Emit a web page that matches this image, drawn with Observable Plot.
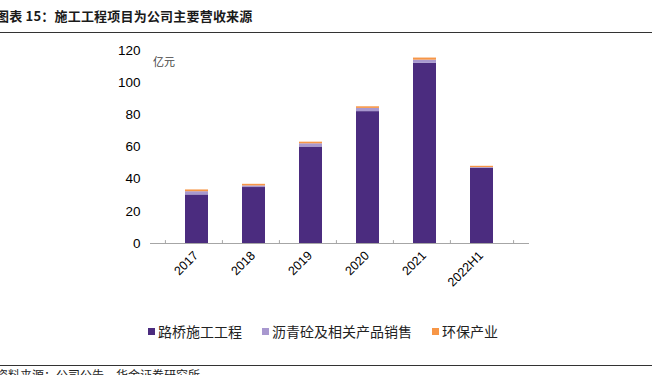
<!DOCTYPE html>
<html>
<head>
<meta charset="utf-8">
<script src="https://cdn.jsdelivr.net/npm/d3@7"></script>
<script src="https://cdn.jsdelivr.net/npm/@observablehq/plot@0.6"></script>
<style>
  html, body { margin: 0; padding: 0; background: #fff; width: 659px; height: 375px; overflow: hidden; position: relative; font-family: "Noto Sans CJK SC", sans-serif; }
  #title { position: absolute; left: -4px; top: 6px; font-size: 13px; font-weight: bold; color: #1a1a1a; white-space: nowrap; letter-spacing: 0.2px; }
  #rule1 { position: absolute; left: 0; top: 32px; width: 652px; height: 0; border-top: 1.5px solid #333; }
  #rule2 { position: absolute; left: 0; top: 365px; width: 652px; height: 0; border-top: 1.5px solid #333; }
  #footer { position: absolute; left: -4px; top: 366px; font-size: 12px; color: #222; white-space: nowrap; }
  #unit { position: absolute; left: 153px; top: 53px; font-size: 11px; color: #444; white-space: nowrap; }
  #chart { position: absolute; left: 0; top: 0; }
  #legend { position: absolute; left: 148px; top: 321px; display: flex; align-items: center; font-size: 14px; color: #222; white-space: nowrap; }
  .item { display: flex; align-items: center; margin-right: 20px; }
  .sw { width: 7px; height: 7px; margin-right: 3px; }
</style>
</head>
<body>
<div id="title"></div>
<div id="rule1"></div>
<div id="chart"></div>
<div id="unit"></div>
<div id="legend"></div>
<div id="rule2"></div>
<div id="footer"></div>
<script>
const titleText = "图表 15：施工工程项目为公司主要营收来源";
const footerText = "资料来源：公司公告，华金证券研究所";
const unitText = "亿元";
const categories = ["2017", "2018", "2019", "2020", "2021", "2022H1"];
const seriesNames = ["路桥施工工程", "沥青砼及相关产品销售", "环保产业"];
const seriesColors = ["#4b2c7f", "#a898cf", "#f79646"];
const roadBridge = [30.2, 34.8, 60.0, 82.0, 112.0, 46.8];
const asphalt = [2.0, 1.0, 2.0, 2.0, 2.0, 0.4];
const environ = [1.1, 1.0, 1.0, 1.0, 1.3, 0.8];
const yTicks = [0, 20, 40, 60, 80, 100, 120];

document.getElementById("title").textContent = titleText;
document.getElementById("footer").textContent = footerText;
document.getElementById("unit").textContent = unitText;

const seriesValues = [roadBridge, asphalt, environ];
const data = [];
seriesNames.forEach((s, i) => categories.forEach((c, j) => data.push({cat: c, series: s, value: seriesValues[i][j]})));

const W = 659, mL = 150, mR = 130;
const step = (W - mL - mR) / categories.length;

const chart = Plot.plot({
  width: W,
  height: 300,
  marginTop: 50,
  marginBottom: 57,
  marginLeft: mL,
  marginRight: mR,
  style: {fontFamily: "'Liberation Sans', Arial, sans-serif", fontSize: "13px", color: "#000", background: "transparent"},
  x: {domain: categories, padding: 0.59, label: null},
  y: {domain: [0, 120], ticks: yTicks, label: null},
  color: {domain: seriesNames, range: seriesColors},
  marks: [
    Plot.barY(data, {x: "cat", y: "value", fill: "series", order: seriesNames}),
    Plot.ruleY([0], {stroke: "#a6a6a6", strokeWidth: 1}),
    Plot.ruleX(categories, {x: d => d, dx: -step / 2, y1: -0.6, y2: 1.8, stroke: "#a6a6a6"}),
    Plot.ruleX(categories.slice(-1), {x: d => d, dx: step / 2, y1: -0.6, y2: 1.8, stroke: "#a6a6a6"}),
    Plot.axisY({ticks: yTicks, tickSize: 0, tickPadding: 10, fontSize: 13.5, tickFormat: d => String(d)}),
    Plot.axisX({tickSize: 0, tickRotate: -45, tickPadding: 10, dx: -1, fontSize: 12.5, label: null})
  ]
});
document.getElementById("chart").appendChild(chart);

const legend = document.getElementById("legend");
seriesNames.forEach((s, i) => {
  const it = document.createElement("div");
  it.className = "item";
  const sw = document.createElement("span");
  sw.className = "sw";
  sw.style.background = seriesColors[i];
  const t = document.createElement("span");
  t.textContent = s;
  it.appendChild(sw); it.appendChild(t);
  legend.appendChild(it);
});
</script>
</body>
</html>
